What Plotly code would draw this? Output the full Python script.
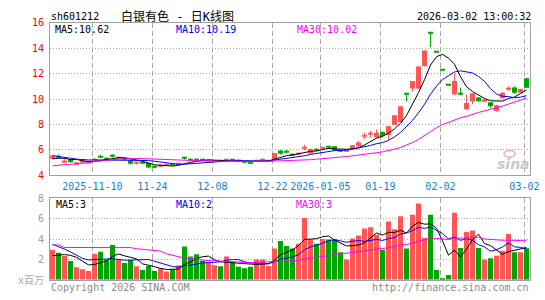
import plotly.graph_objects as go
import pandas as pd

# ---------------- data ----------------
dates = [
    "2025-10-30", "2025-10-31",
    "2025-11-03", "2025-11-04", "2025-11-05", "2025-11-06", "2025-11-07",
    "2025-11-10", "2025-11-11", "2025-11-12", "2025-11-13", "2025-11-14",
    "2025-11-17", "2025-11-18", "2025-11-19", "2025-11-20", "2025-11-21",
    "2025-11-24", "2025-11-25", "2025-11-26", "2025-11-27", "2025-11-28",
    "2025-12-01", "2025-12-02", "2025-12-03", "2025-12-04", "2025-12-05",
    "2025-12-08", "2025-12-09", "2025-12-10", "2025-12-11", "2025-12-12",
    "2025-12-15", "2025-12-16", "2025-12-17", "2025-12-18", "2025-12-19",
    "2025-12-22", "2025-12-23", "2025-12-24", "2025-12-25", "2025-12-26",
    "2025-12-29", "2025-12-30", "2025-12-31",
    "2026-01-05", "2026-01-06", "2026-01-07", "2026-01-08", "2026-01-09",
    "2026-01-12", "2026-01-13", "2026-01-14", "2026-01-15", "2026-01-16",
    "2026-01-19", "2026-01-20", "2026-01-21", "2026-01-22", "2026-01-23",
    "2026-01-26", "2026-01-27", "2026-01-28", "2026-01-29", "2026-01-30",
    "2026-02-02", "2026-02-03", "2026-02-04", "2026-02-05", "2026-02-06",
    "2026-02-09", "2026-02-10", "2026-02-11", "2026-02-12", "2026-02-13",
    "2026-02-24", "2026-02-25", "2026-02-26", "2026-02-27",
    "2026-03-02",
]

opens = [5.30, 5.50, 5.05, 5.21, 4.88, 4.99, 5.03, 5.22, 5.49, 5.32,
         5.53, 5.36, 5.30, 5.15, 4.95, 5.02, 4.96, 4.66, 4.73, 4.76,
         4.86, 4.84, 5.36, 5.24, 5.25, 5.24, 5.08, 5.08, 5.13, 5.18,
         5.21, 5.14, 5.05, 5.03, 5.13, 5.23, 5.12, 5.24, 5.95, 5.87,
         5.65, 5.68, 6.18, 5.72, 6.02, 6.12, 6.22, 6.28, 5.93, 5.86,
         6.10, 6.28, 7.06, 7.21, 6.99, 7.41, 7.16, 7.98, 8.20, 10.38,
         10.83, 10.83, 12.60, 15.20, 13.68, 12.31, 11.08, 10.37, 10.50, 9.19,
         9.82, 10.12, 9.88, 9.74, 9.06, 10.07, 10.82, 10.90, 10.50, 11.64]
highs = [5.60, 5.65, 5.30, 5.25, 5.05, 5.10, 5.12, 5.38, 5.60, 5.40,
         5.65, 5.48, 5.34, 5.18, 5.08, 5.10, 4.98, 4.75, 4.82, 4.85,
         4.88, 4.92, 5.45, 5.32, 5.32, 5.30, 5.15, 5.16, 5.16, 5.28,
         5.23, 5.16, 5.08, 5.08, 5.22, 5.33, 5.18, 5.76, 5.97, 5.98,
         5.72, 5.80, 6.40, 6.10, 6.12, 6.22, 6.30, 6.30, 5.97, 6.02,
         6.38, 6.70, 7.35, 7.50, 7.60, 7.45, 7.86, 8.73, 9.44, 10.38,
         11.42, 12.56, 13.82, 15.20, 13.68, 12.31, 11.08, 12.00, 10.90, 10.35,
         10.45, 10.15, 10.02, 9.76, 9.55, 10.55, 11.00, 11.00, 10.82, 11.66]
lows = [5.25, 5.30, 4.95, 4.98, 4.85, 4.95, 5.00, 5.12, 5.38, 5.22,
        5.40, 5.28, 5.20, 4.85, 4.85, 4.92, 4.55, 4.55, 4.65, 4.72,
        4.80, 4.80, 5.22, 5.15, 5.15, 5.10, 5.05, 5.05, 5.06, 5.12,
        5.08, 5.08, 4.98, 4.92, 5.08, 5.16, 5.10, 5.22, 5.62, 5.72,
        5.50, 5.60, 5.95, 5.70, 5.90, 6.05, 6.10, 5.95, 5.82, 5.84,
        6.08, 6.25, 6.85, 6.95, 6.95, 6.95, 6.78, 7.95, 8.17, 9.82,
        10.60, 10.80, 12.55, 14.07, 13.68, 12.31, 11.08, 10.30, 10.30, 9.15,
        9.60, 9.78, 9.78, 9.30, 9.00, 10.05, 10.65, 10.40, 10.48, 10.85]
closes = [5.55, 5.46, 5.15, 5.02, 5.00, 5.05, 5.08, 5.25, 5.46, 5.29,
          5.50, 5.39, 5.24, 4.90, 4.98, 4.99, 4.60, 4.63, 4.76, 4.80,
          4.82, 4.90, 5.33, 5.21, 5.22, 5.21, 5.12, 5.13, 5.10, 5.21,
          5.14, 5.10, 5.00, 5.00, 5.16, 5.26, 5.16, 5.74, 5.70, 5.84,
          5.56, 5.71, 6.21, 6.06, 5.99, 6.15, 6.19, 5.97, 5.90, 6.00,
          6.35, 6.58, 7.09, 7.24, 7.34, 7.09, 7.85, 8.73, 9.44, 10.38,
          11.42, 12.56, 13.82, 15.20, 13.68, 12.31, 11.08, 11.41, 10.33, 9.69,
          10.45, 9.82, 9.91, 9.44, 9.50, 10.50, 10.86, 10.50, 10.78, 10.88]
volumes = [2.94, 2.66, 2.34, 1.84, 1.23, 1.04, 0.85, 2.56, 2.75, 1.96,
           3.42, 1.96, 1.65, 1.93, 1.33, 0.95, 1.36, 0.85, 1.10, 0.80,
           1.04, 1.39, 3.26, 2.28, 2.50, 1.87, 1.71, 1.42, 1.33, 2.28,
           1.80, 1.27, 1.14, 1.27, 2.00, 2.00, 1.36, 3.07, 3.80, 3.32,
           3.07, 3.54, 6.08, 3.96, 3.54, 4.00, 3.96, 4.00, 2.69, 2.00,
           4.05, 4.34, 5.03, 5.16, 4.43, 2.94, 5.73, 4.97, 6.23, 3.07,
           6.39, 7.50, 4.11, 6.39, 0.95, 0.13, 0.47, 6.58, 3.13, 4.68,
           4.84, 3.13, 2.00, 2.12, 2.37, 2.85, 4.49, 2.69, 2.69, 3.10]

# closes / volumes of the sessions just before the visible window (estimated)
prior_closes = [5.95, 5.90, 5.80, 5.70, 5.60, 5.21, 5.20, 5.50, 4.99]
prior_volumes = [4.80, 4.90, 4.60, 4.50, 4.15, 2.30, 2.20, 2.20, 2.21]

ma30_price = [4.74, 4.76, 4.83, 4.86, 4.92, 4.95, 4.97, 5.10, 5.12, 5.14,
              5.22, 5.27, 5.30, 5.31, 5.31, 5.31, 5.30, 5.29, 5.28, 5.25,
              5.22, 5.20, 5.18, 5.16, 5.14, 5.13, 5.12, 5.11, 5.10, 5.11,
              5.10, 5.09, 5.08, 5.08, 5.09, 5.09, 5.10, 5.11, 5.12, 5.14,
              5.14, 5.15, 5.18, 5.22, 5.26, 5.29, 5.35, 5.39, 5.43, 5.47,
              5.52, 5.58, 5.64, 5.70, 5.77, 5.84, 5.93, 6.05, 6.19, 6.36,
              6.57, 6.82, 7.12, 7.46, 7.74, 7.98, 8.17, 8.36, 8.52, 8.64,
              8.81, 8.94, 9.07, 9.18, 9.30, 9.44, 9.60, 9.75, 9.91, 10.07]
ma30_volume = [3.42, 3.42, 3.17, 3.16, 3.16, 3.16, 3.16, 3.16, 3.16, 3.16,
               3.16, 3.16, 3.16, 3.16, 3.05, 3.00, 2.98, 2.88, 2.82, 2.55,
               2.40, 2.30, 2.12, 2.06, 2.04, 1.92, 1.88, 1.85, 1.84, 1.82,
               1.78, 1.74, 1.70, 1.68, 1.70, 1.73, 1.75, 1.77, 1.80, 1.85,
               1.84, 1.89, 2.04, 2.11, 2.18, 2.28, 2.37, 2.47, 2.53, 2.57,
               2.67, 2.76, 2.82, 2.92, 2.98, 3.02, 3.15, 3.27, 3.43, 3.46,
               3.61, 3.82, 3.92, 4.09, 4.06, 3.99, 3.96, 4.08, 4.06, 4.10,
               4.16, 4.15, 4.01, 3.95, 3.91, 3.88, 3.89, 3.85, 3.85, 3.89]

tick_dates = ["2025-11-10", "2025-11-24", "2025-12-08", "2025-12-22",
              "2026-01-05", "2026-01-19", "2026-02-02", "2026-03-02"]
tick_text = ["2025-11-10", "11-24", "12-08", "12-22",
             "2026-01-05", "01-19", "02-02", "03-02"]
price_ticks = [4, 6, 8, 10, 12, 14, 16]
volume_ticks = [2, 4, 6, 8]

title_code = "sh601212"
title_name = "白银有色 - 日K线图"
title_time = "2026-03-02 13:00:32"
price_legend = ["MA5:10.62", "MA10:10.19", "MA30:10.02"]
volume_legend = ["MA5:3", "MA10:2", "MA30:3"]
volume_unit = "x百万"
footer_left = "Copyright 2026 SINA.COM"
footer_right = "http://finance.sina.com.cn"

# ---------------- styling ----------------
RED = "#ff5555"
GREEN = "#00a600"
MA_COLORS = ["#000000", "#0000ff", "#ff00ff"]
MONO = "DejaVu Sans Mono"
CJK = "DejaVu Sans Mono, Noto Sans CJK SC"
FRAME = "#a0a0a0"
GRID = "#a8a8a8"

n = len(dates)
idx = list(range(n))
up = [c > o for o, c in zip(opens, closes)]

cs = pd.Series(prior_closes + closes)
ma5 = cs.rolling(5).mean().iloc[len(prior_closes):].tolist()
ma10 = cs.rolling(10).mean().iloc[len(prior_closes):].tolist()
vs = pd.Series(prior_volumes + volumes)
vma5 = vs.rolling(5).mean().iloc[len(prior_volumes):].tolist()
vma10 = vs.rolling(10).mean().iloc[len(prior_volumes):].tolist()

MIN_BODY = 0.08
body_base, body_h = [], []
for o, c in zip(opens, closes):
    lo, hi = min(o, c), max(o, c)
    if hi - lo < MIN_BODY:
        mid = (o + c) / 2
        lo, hi = mid - MIN_BODY / 2, mid + MIN_BODY / 2
    body_base.append(lo)
    body_h.append(hi - lo)

fig = go.Figure()

BAR_W = 0.84
for flag, color in ((True, RED), (False, GREEN)):
    sel = [i for i in idx if up[i] == flag]
    wx, wy = [], []
    for i in sel:
        wx += [i, i, None]
        wy += [lows[i], highs[i], None]
    fig.add_trace(go.Scatter(x=wx, y=wy, mode="lines", line=dict(color=color, width=1),
                             xaxis="x", yaxis="y", hoverinfo="skip"))
    fig.add_trace(go.Bar(x=sel, y=[body_h[i] for i in sel], base=[body_base[i] for i in sel],
                         width=BAR_W, marker=dict(color=color, line=dict(width=0)),
                         xaxis="x", yaxis="y"))

for series, color in zip((ma5, ma10, ma30_price), MA_COLORS):
    fig.add_trace(go.Scatter(x=idx, y=series, mode="lines", line=dict(color=color, width=1),
                             xaxis="x", yaxis="y"))

fig.add_trace(go.Bar(x=idx, y=volumes, width=BAR_W,
                     marker=dict(color=[RED if u else GREEN for u in up], line=dict(width=0)),
                     xaxis="x2", yaxis="y2"))
for series, color in zip((vma5, vma10, ma30_volume), MA_COLORS):
    fig.add_trace(go.Scatter(x=idx, y=series, mode="lines", line=dict(color=color, width=1),
                             xaxis="x2", yaxis="y2"))

tick_pos = [dates.index(d) - 0.35 for d in tick_dates]
x_range = [-0.42, n - 0.42]

common_x = dict(range=x_range, tickvals=tick_pos, showgrid=True, gridcolor=GRID,
                griddash="5px,3px", gridwidth=1, zeroline=False, showline=True,
                linecolor=FRAME, linewidth=1, mirror=True, fixedrange=True)
common_y = dict(showgrid=True, gridcolor=GRID, griddash="1px,2px", gridwidth=1,
                zeroline=False, showline=True, linecolor=FRAME, linewidth=1, mirror=True,
                ticks="outside", ticklen=3, tickcolor="rgba(0,0,0,0)")

H = 300.0
fig.update_layout(
    width=545, height=300,
    margin=dict(l=50, r=15, t=0, b=0),
    paper_bgcolor="white", plot_bgcolor="white",
    showlegend=False, barmode="overlay", hovermode=False,
    xaxis=dict(**common_x, domain=[0, 1], anchor="y", ticktext=tick_text,
               ticks="outside", ticklen=2, tickcolor="rgba(0,0,0,0)",
               tickfont=dict(family=MONO, size=10, color="#0f82d2")),
    yaxis=dict(**common_y, domain=[1 - 176.7 / H, 1 - 18.5 / H], range=[4, 16],
               tickvals=price_ticks, tickfont=dict(family=MONO, size=10, color="#ff0000")),
    xaxis2=dict(**common_x, domain=[0, 1], anchor="y2", matches="x", showticklabels=False),
    yaxis2=dict(**common_y, domain=[1 - 285.2 / H, 1 - 200.7 / H], range=[0, 8],
                tickvals=volume_ticks, tickfont=dict(family=MONO, size=10, color="#9a9a9a")),
)

def px_x(px):
    return (px - 50) / 480.0

def px_y(py):
    return 1 - py / H

def note(text, x, y, color, size=10, anchor="left", family=MONO):
    fig.add_annotation(text=text, x=px_x(x), y=px_y(y), xref="paper", yref="paper",
                       xanchor=anchor, yanchor="middle", showarrow=False,
                       font=dict(family=family, size=size, color=color), borderpad=0)

note(title_code, 50, 11.5, "#000000")
note(title_name, 177, 11.5, "#000000", size=12, anchor="center", family=CJK)
note(title_time, 532, 11.5, "#000000", anchor="right")
for text, x, color in zip(price_legend, (54, 175, 296), MA_COLORS):
    note(text, x, 25, color)
for text, x, color in zip(volume_legend, (55, 175, 295), MA_COLORS):
    note(text, x, 207, color)
note(volume_unit, 45, 285.5, "#a8a8a8", anchor="right", family=CJK)
note(footer_left, 50, 293, "#8a8a8a")
note(footer_right, 530, 293, "#8a8a8a", anchor="right")

# sina watermark (text + small eye-shaped logo drawn as a shape)
fig.add_annotation(text="<b><i>sina</i></b>", x=px_x(513), y=px_y(165), xref="paper", yref="paper",
                   xanchor="center", yanchor="middle", showarrow=False,
                   font=dict(family="DejaVu Sans", size=14, color="#c9c9c9"))
fig.add_shape(type="circle", xref="paper", yref="paper",
              x0=px_x(504), x1=px_x(515), y0=px_y(158), y1=px_y(151),
              line=dict(color="#f2b0b0", width=1.5), fillcolor="rgba(0,0,0,0)")

fig.write_html("out.html")
